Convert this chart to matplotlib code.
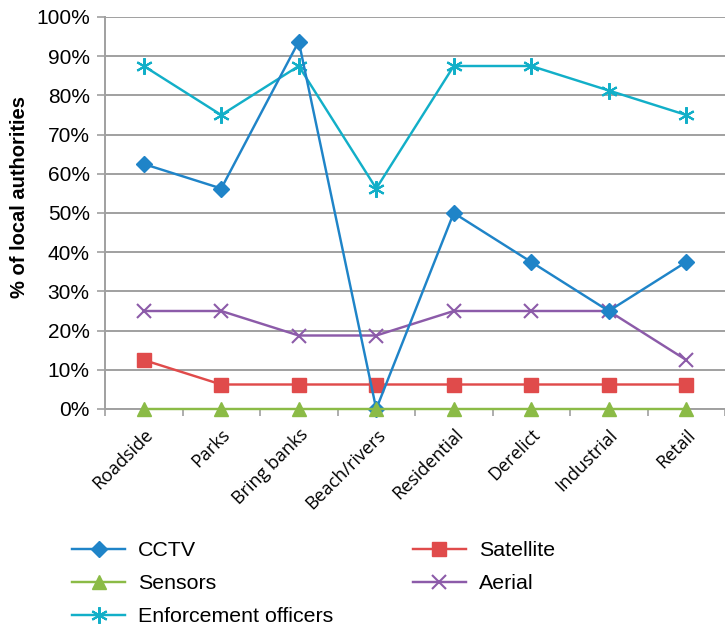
import matplotlib
matplotlib.use("Agg")
import matplotlib.pyplot as plt
from matplotlib.ticker import PercentFormatter

categories = ["Roadside", "Parks", "Bring banks", "Beach/rivers", "Residential",
              "Derelict", "Industrial", "Retail"]
cctv = [62.5, 56.25, 93.75, 0, 50, 37.5, 25, 37.5]
satellite = [12.5, 6.25, 6.25, 6.25, 6.25, 6.25, 6.25, 6.25]
sensors = [0, 0, 0, 0, 0, 0, 0, 0]
aerial = [25, 25, 18.75, 18.75, 25, 25, 25, 12.5]
enforcement = [87.5, 75, 87.5, 56.25, 87.5, 87.5, 81.25, 75]
yticks = [0, 10, 20, 30, 40, 50, 60, 70, 80, 90, 100]

plt.rcParams['font.family'] = ['Liberation Sans', 'DejaVu Sans']

fig = plt.figure(figsize=(7.25, 6.28), dpi=100)
ax = fig.add_axes([105/725, 1 - 409/628, 1 - 105/725, (409 - 17)/628])

x = list(range(len(categories)))
lw = 1.75
ax.plot(x, cctv, color='#1F84C8', lw=lw, marker='D', ms=8.5, label='CCTV', zorder=5, clip_on=False)
ax.plot(x, satellite, color='#E04B4B', lw=lw, marker='s', ms=10, label='Satellite', zorder=4, clip_on=False)
ax.plot(x, sensors, color='#8BBB46', lw=lw, marker='^', ms=10, label='Sensors', zorder=6, clip_on=False)
ax.plot(x, aerial, color='#8C5BA9', lw=lw, marker='x', ms=10, mew=1.5, label='Aerial', zorder=3, clip_on=False)
ax.plot(x, enforcement, color='#12AFC8', lw=lw, marker=(6, 2, 0), ms=12, mew=1.5,
        label='Enforcement officers', zorder=4, clip_on=False)

ax.set_ylim(0, 100)
ax.set_xlim(-0.5, 7.5 - 12/79)
ax.set_yticks(yticks)
ax.yaxis.set_major_formatter(PercentFormatter(decimals=0))
ax.set_xticks([i - 0.5 for i in range(len(categories) + 1)], minor=False)
ax.set_xticklabels([])
ax.set_xticks(x, minor=True)
ax.set_xticklabels(categories, minor=True, rotation=45, ha='right', va='top',
                   rotation_mode='anchor', family=['Open Sans', 'DejaVu Sans'], fontsize=13)
ax.tick_params(axis='x', which='minor', length=0, pad=12)
ax.tick_params(axis='x', which='major', length=5, color='#A0A0A0', width=1.2)
ax.tick_params(axis='y', length=6, color='#A0A0A0', width=1.2, labelsize=15, pad=5)

ax.grid(axis='y', color='#A0A0A0', lw=1.4)
ax.set_axisbelow(True)
for s in ['top', 'right']:
    ax.spines[s].set_visible(False)
ax.spines['left'].set_color('#A0A0A0')
ax.spines['bottom'].set_color('#A0A0A0')
ax.spines['left'].set_linewidth(1.4)
ax.spines['bottom'].set_linewidth(1.4)

ax.set_ylabel('% of local authorities', fontsize=14.5, fontweight='bold')
ax.yaxis.set_label_coords(-0.123, (409 - 197) / 392)

handles, labels = ax.get_legend_handles_labels()
order = [0, 2, 4, 1, 3]
leg = fig.legend([handles[i] for i in order], [labels[i] for i in order],
                 loc='upper left', bbox_to_anchor=(72/725, 1 - 541/628), ncol=2,
                 frameon=False, fontsize=15.4, handlelength=2.5, columnspacing=3.7,
                 labelspacing=0.66, handletextpad=0.6, borderpad=0, borderaxespad=0)

fig.savefig('out.png', dpi=100)
